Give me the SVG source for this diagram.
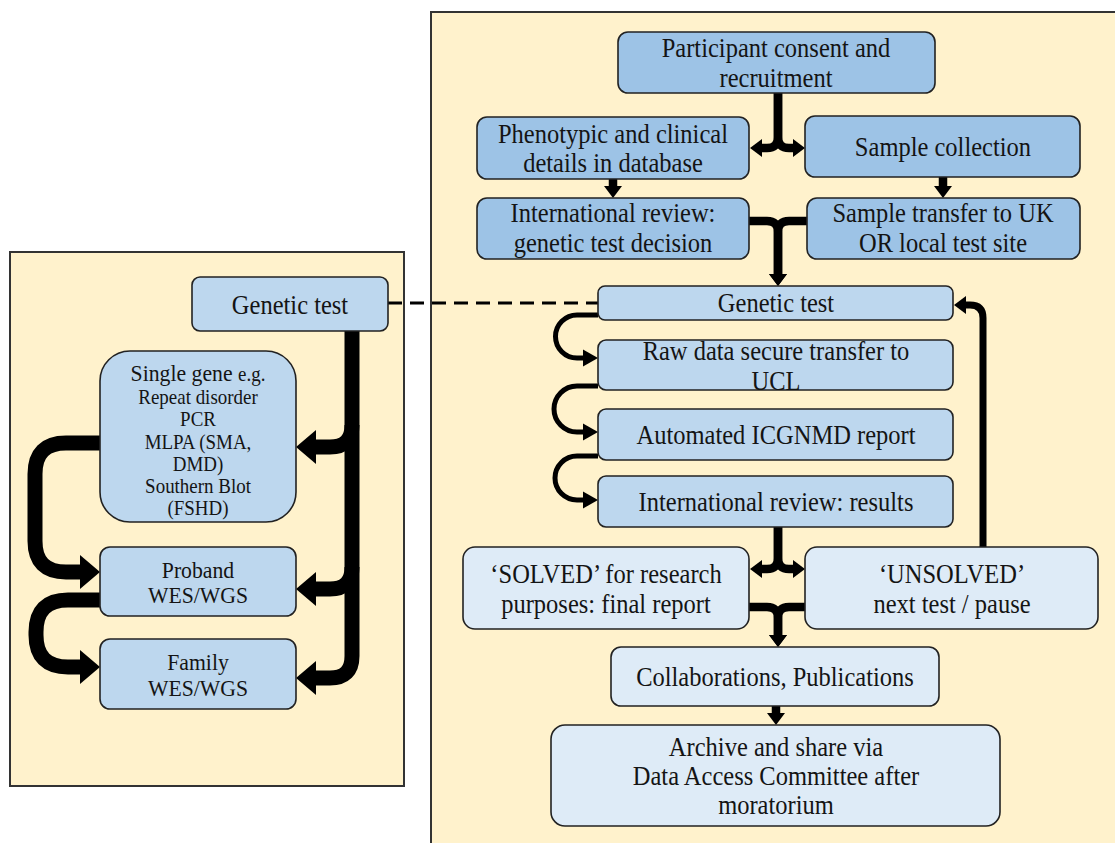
<svg xmlns="http://www.w3.org/2000/svg" width="1115" height="843" viewBox="0 0 1115 843">
<defs>
<style>
.panel{fill:#FFF2CC;stroke:#333;stroke-width:2}
.b1{fill:#9DC3E6;stroke:#222;stroke-width:1.6}
.b2{fill:#BDD7EE;stroke:#222;stroke-width:1.6}
.b3{fill:#DEEBF7;stroke:#222;stroke-width:1.6}
text{font-family:"Liberation Serif","Times New Roman",serif;fill:#141414;text-anchor:middle;transform-box:fill-box;transform-origin:center;transform:scaleX(0.925)}
.t{font-size:26.5px}
.tl{font-size:23.5px}
.ts{font-size:20.5px}
.c{fill:none;stroke:#000}
.w8{stroke-width:8.5;marker-end:url(#am)}
.w7{stroke-width:7;marker-end:url(#am)}
.w5{stroke-width:5;marker-end:url(#al)}
.w15{stroke-width:15;marker-end:url(#ab)}
.dash{stroke-width:3;stroke-dasharray:14 8}
</style>
<marker id="am" markerUnits="userSpaceOnUse" orient="auto" refX="0" refY="0" markerWidth="1" markerHeight="1" style="overflow:visible"><path d="M0,-9 L12,0 L0,9 z" fill="#000"/></marker>
<marker id="al" markerUnits="userSpaceOnUse" orient="auto" refX="0" refY="0" markerWidth="1" markerHeight="1" style="overflow:visible"><path d="M0,-8.5 L15,0 L0,8.5 z" fill="#000"/></marker>
<marker id="ab" markerUnits="userSpaceOnUse" orient="auto" refX="0" refY="0" markerWidth="1" markerHeight="1" style="overflow:visible"><path d="M0,-17 L20,0 L0,17 z" fill="#000"/></marker>
</defs>
<rect width="1115" height="843" fill="#fff"/>
<rect id="panel-right" class="panel" x="431" y="12" width="700" height="850"/>
<rect id="panel-left" class="panel" x="10" y="252" width="394" height="534"/>

<g id="connectors">
<path class="c w8" d="M778,93 V137 Q778,148 767,148 H762"/>
<path class="c w8" d="M778,93 V137 Q778,148 789,148 H793"/>
<path class="c w8" d="M613,179 V186"/>
<path class="c w8" d="M943,177 V186"/>
<path class="c w8" d="M749,221 H767 Q778,221 778,232 V274"/>
<path class="c w8" d="M807,221 H789 Q778,221 778,232 V274"/>
<path class="c dash" d="M388,303 H598"/>
<path class="c w5" d="M598,315 H577 A21.5,21.5 0 0 0 577,358 H583"/>
<path class="c w5" d="M598,386 H577 A23,23 0 0 0 577,432 H583"/>
<path class="c w5" d="M598,456 H577 A22,22 0 0 0 577,500 H583"/>
<path class="c w7" d="M983,547 V318 Q983,305 970,305 H966"/>
<path class="c w8" d="M778,527 V558 Q778,569 767,569 H762"/>
<path class="c w8" d="M778,527 V558 Q778,569 789,569 H793"/>
<path class="c w8" d="M749,607 H767 Q778,607 778,618 V635"/>
<path class="c w8" d="M805,607 H789 Q778,607 778,618 V635"/>
<path class="c w8" d="M776,706 V713"/>
<path class="c w15" d="M352,331 V656 Q352,678 330,678 H316"/>
<path class="c w15" d="M352,425 Q352,447 330,447 H316"/>
<path class="c w15" d="M352,567 Q352,589 330,589 H316"/>
<path class="c w15" d="M100,443 H66 Q35,443 35,474 V541 Q35,572 66,572 H80"/>
<path class="c w15" d="M100,600 H68 Q36,600 36,632 V635 Q36,667 68,667 H80"/>
</g>

<g id="n-consent"><rect class="b1" x="618" y="32" width="317" height="61" rx="10"/>
<text class="t" x="776" y="57">Participant consent and</text><text class="t" x="776" y="87">recruitment</text></g>
<g id="n-phenotypic"><rect class="b1" x="477" y="117" width="272" height="62" rx="10"/>
<text class="t" x="613" y="143">Phenotypic and clinical</text><text class="t" x="613" y="172">details in database</text></g>
<g id="n-sample-collection"><rect class="b1" x="805" y="116" width="275" height="61" rx="10"/>
<text class="t" x="943" y="156">Sample collection</text></g>
<g id="n-review-decision"><rect class="b1" x="477" y="198" width="272" height="61" rx="10"/>
<text class="t" x="613" y="222">International review:</text><text class="t" x="613" y="252">genetic test decision</text></g>
<g id="n-sample-transfer"><rect class="b1" x="807" y="198" width="273" height="61" rx="10"/>
<text class="t" x="943" y="222">Sample transfer to UK</text><text class="t" x="943" y="252">OR local test site</text></g>
<g id="n-genetic-test-right"><rect class="b2" x="598" y="286" width="355" height="34" rx="7"/>
<text class="t" x="776" y="312">Genetic test</text></g>
<g id="n-raw-data"><rect class="b2" x="598" y="340" width="355" height="50" rx="8"/>
<text class="t" x="776" y="360">Raw data secure transfer to</text><text class="t" x="776" y="390">UCL</text></g>
<g id="n-automated"><rect class="b2" x="598" y="409" width="355" height="51" rx="8"/>
<text class="t" x="776" y="444">Automated ICGNMD report</text></g>
<g id="n-review-results"><rect class="b2" x="598" y="476" width="355" height="51" rx="8"/>
<text class="t" x="776" y="511">International review: results</text></g>
<g id="n-solved"><rect class="b3" x="463" y="547" width="286" height="82" rx="12"/>
<text class="t" x="606" y="583">‘SOLVED’ for research</text><text class="t" x="606" y="613">purposes: final report</text></g>
<g id="n-unsolved"><rect class="b3" x="805" y="547" width="293" height="82" rx="12"/>
<text class="t" x="952" y="583">‘UNSOLVED’</text><text class="t" x="952" y="613">next test / pause</text></g>
<g id="n-collaborations"><rect class="b3" x="611" y="647" width="328" height="59" rx="10"/>
<text class="t" x="775" y="686">Collaborations, Publications</text></g>
<g id="n-archive"><rect class="b3" x="551" y="725" width="449" height="101" rx="14"/>
<text class="t" x="776" y="756">Archive and share via</text><text class="t" x="776" y="785">Data Access Committee after</text><text class="t" x="776" y="814">moratorium</text></g>

<g id="n-genetic-test-left"><rect class="b2" x="192" y="277" width="196" height="54" rx="8"/>
<text class="t" x="290" y="314">Genetic test</text></g>
<g id="n-single-gene"><rect class="b2" x="100" y="351" width="196" height="171" rx="30"/>
<text class="tl" x="198" y="381">Single gene <tspan class="ts">e.g.</tspan></text>
<text class="ts" x="198" y="404">Repeat disorder</text>
<text class="ts" x="198" y="426">PCR</text>
<text class="ts" x="198" y="449">MLPA (SMA,</text>
<text class="ts" x="198" y="471">DMD)</text>
<text class="ts" x="198" y="493">Southern Blot</text>
<text class="ts" x="198" y="515">(FSHD)</text></g>
<g id="n-proband"><rect class="b2" x="100" y="547" width="196" height="69" rx="10"/>
<text class="tl" x="198" y="578">Proband</text><text class="tl" x="198" y="603">WES/WGS</text></g>
<g id="n-family"><rect class="b2" x="100" y="639" width="196" height="70" rx="10"/>
<text class="tl" x="198" y="670">Family</text><text class="tl" x="198" y="696">WES/WGS</text></g>
</svg>
